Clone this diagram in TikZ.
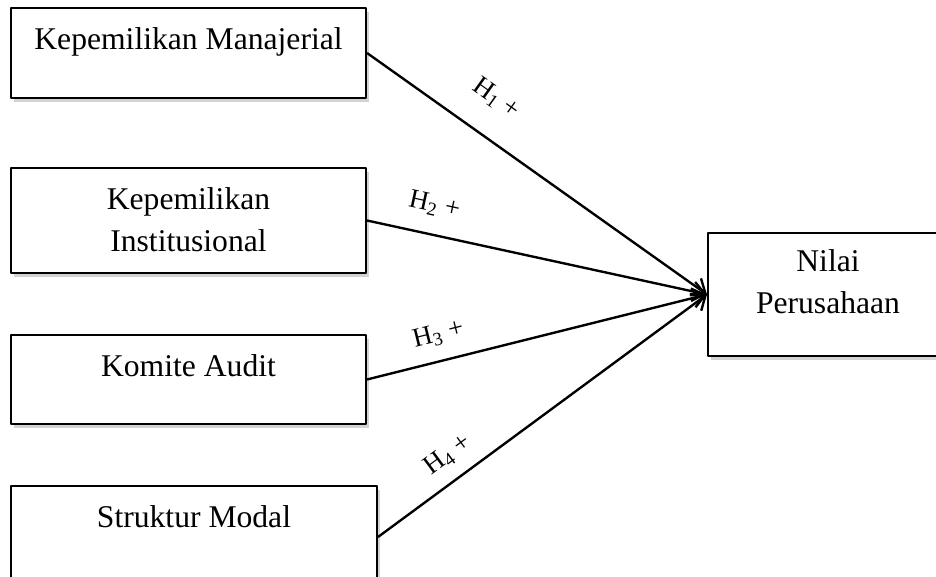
\documentclass[tikz,border=0pt]{standalone}
\usepackage{fontspec}
\setmainfont{Liberation Serif}
\usetikzlibrary{positioning,arrows.meta,shadows}
\begin{document}
\begin{tikzpicture}[x=0.02cm, y=-0.02cm, line join=round, >={Straight Barb[length=7pt,width=11pt]},
	box/.style={draw, fill=white, line width=1.2pt, inner sep=0pt, drop shadow={shadow xshift=1.5pt, shadow yshift=-2pt, opacity=.35}},
	txt/.style={inner sep=0pt, align=center, font=\fontsize{18}{23.8}\selectfont},
	lbl/.style={inner sep=0pt, sloped, font=\fontsize{15.3}{18}\selectfont},
	arr/.style={->, line width=1.35pt}]
	\useasboundingbox (0,0) rectangle (936,577);
	\clip (0,0) rectangle (936,577);
	\node[box, minimum width=7.1cm, minimum height=1.8cm] (ka) at (188.5,53) {};
	\node[box, minimum width=7.1cm, minimum height=2.1cm] (ki) at (188.5,220.5) {};
	\node[box, minimum width=7.1cm, minimum height=1.78cm] (kom) at (188.5,379.5) {};
	\node[box, minimum width=7.32cm, minimum height=2.04cm] (sm) at (194,537) {};
	\node[box, minimum width=4.8cm, minimum height=2.46cm] (np) at (828,294.5) {};
	\node[txt, below=0.41cm of ka.north] (ka-t) {Kepemilikan Manajerial};
	\node[txt, below=0.41cm of ki.north] (ki-t) {Kepemilikan\\Institusional};
	\node[txt, below=0.41cm of kom.north] (kom-t) {Komite Audit};
	\node[txt, below=0.41cm of sm.north] (sm-t) {Struktur Modal};
	\node[txt, below=0.35cm of np.north] (np-t) {Nilai\\Perusahaan};
	\draw[arr] (ka.east) -- (np.west) node[lbl, pos=.316, above=14.7pt] (h1) {H\textsubscript{1} +};
	\draw[arr] (ki.east) -- (np.west) node[lbl, pos=.18, above=9.9pt] (h2) {H\textsubscript{2} +};
	\draw[arr] (kom.east) -- (np.west) node[lbl, pos=.229, above=8.2pt] (h3) {H\textsubscript{3} +};
	\draw[arr] (sm.east) -- (np.west) node[lbl, pos=.257, above=7.1pt] (h4) {H\textsubscript{4} +};
\end{tikzpicture}
\end{document}
